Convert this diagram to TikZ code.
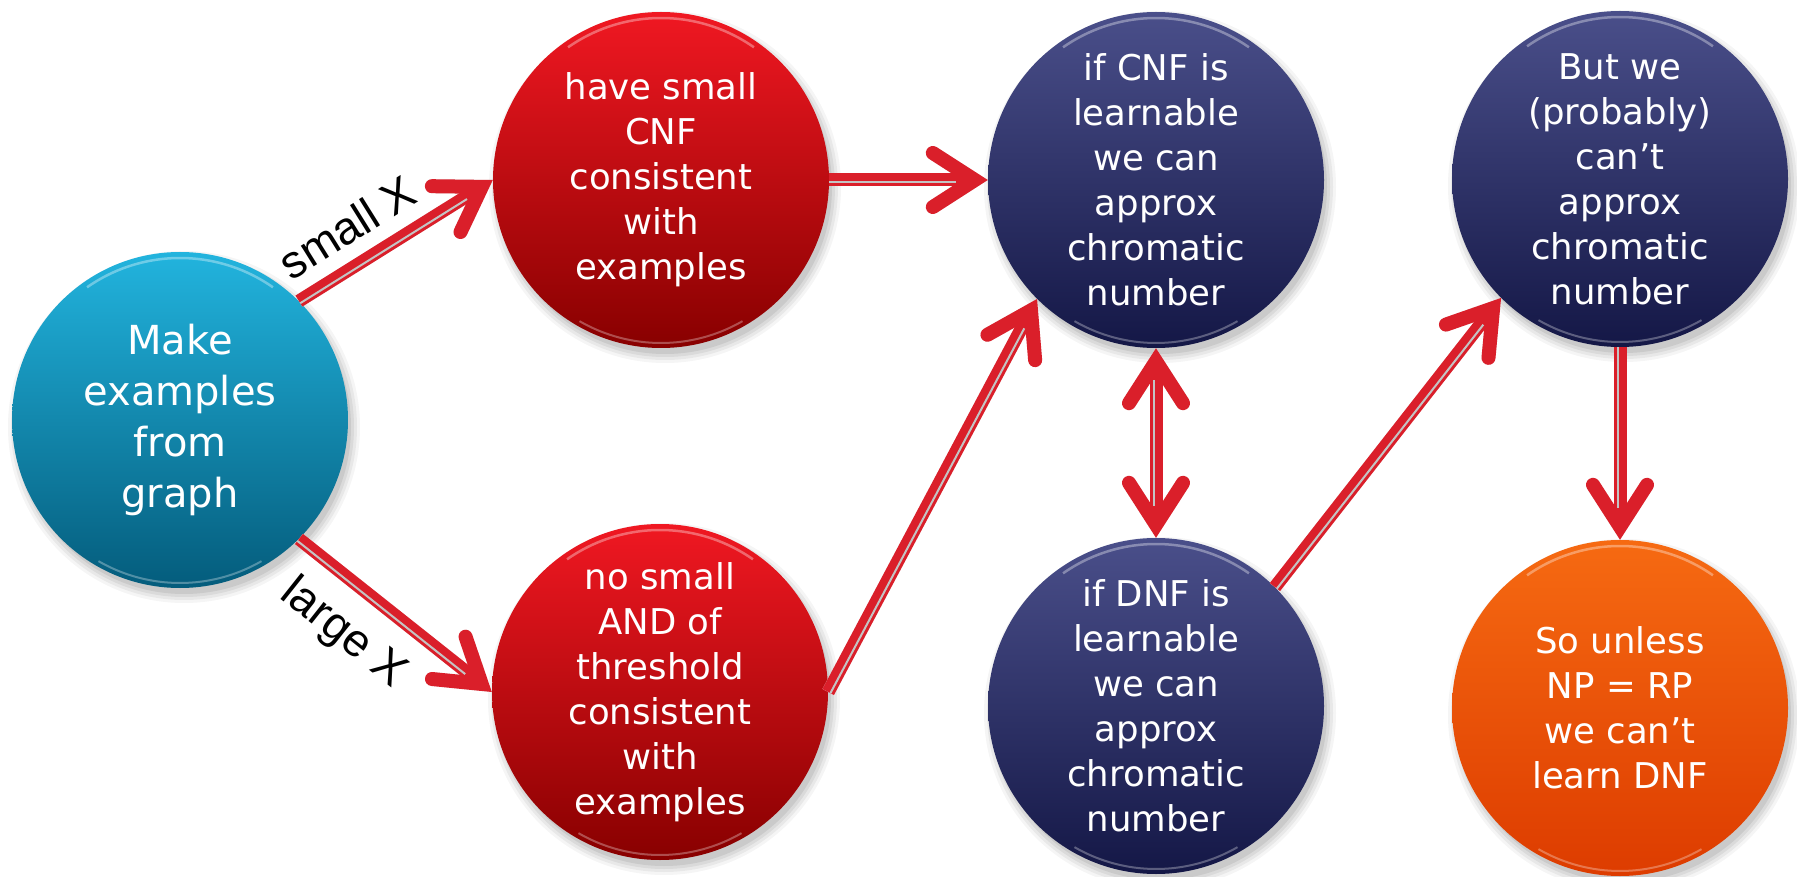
\documentclass[tikz,border=0pt]{standalone}
\usepackage{fontspec}
\setmainfont{DejaVu Sans}
\newfontfamily\lblfont{Liberation Sans}
\usetikzlibrary{arrows.meta,calc}
\definecolor{arrred}{HTML}{DA1F2A}
\definecolor{stripegray}{HTML}{C4C4C4}
\definecolor{cyantop}{HTML}{22B4DE}
\definecolor{cyanbot}{HTML}{045C7C}
\definecolor{redtop}{HTML}{F01822}
\definecolor{redbot}{HTML}{880000}
\definecolor{navytop}{HTML}{4A4F8A}
\definecolor{navybot}{HTML}{141746}
\definecolor{orgtop}{HTML}{F66A12}
\definecolor{orgbot}{HTML}{DD3C00}
\tikzset{
  ball/.style={circle, minimum size=336pt, inner sep=0pt, align=center,
    text=white, font=\fontsize{35.5}{45}\selectfont},
  bigball/.style={ball, font=\fontsize{40}{51}\selectfont},
  cyanball/.style={bigball, top color=cyantop, bottom color=cyanbot},
  redball/.style={ball, top color=redtop, bottom color=redbot},
  navyball/.style={ball, top color=navytop, bottom color=navybot},
  orgball/.style={ball, top color=orgtop, bottom color=orgbot},
  barb/.tip={Straight Barb[length=42pt,width=54pt,line width=14pt,line cap=round,line join=miter]},
  shaft/.style={draw=arrred, line width=13pt, -barb},
  dblshaft/.style={draw=arrred, line width=13pt, barb-barb},
  stripe/.style={draw=stripegray, line width=2pt},
  lbl/.style={font=\lblfont\fontsize{46}{50}\selectfont, text=black, sloped, inner sep=0pt},
}
\newcommand\ballshadow[1]{%
  \foreach \r/\o in {176/0.04,173/0.05,170/0.06,167/0.07}{
    \fill[black, opacity=\o] ([xshift=4pt,yshift=-7pt]#1.center) circle[radius=\r pt];}}
\newcommand\ballgloss[1]{%
  \draw[white, opacity=.35, line width=2.5pt]
    ([shift={(125:162pt)}]#1.center) arc[start angle=125, end angle=55, radius=162pt];
  \draw[white, opacity=.30, line width=2pt]
    ([shift={(240:163pt)}]#1.center) arc[start angle=240, end angle=300, radius=163pt];}
\newcommand\arrshadow[3]{%
  \begin{scope}[xshift=3pt,yshift=-5pt]
    \draw[#1, draw=black!9] (#2) -- (#3);
  \end{scope}}
\newcommand\conn[3]{%
  \draw[#1] (#2) -- (#3);
  \draw[stripe, shorten >=32pt] ($(#2)!2.5pt!-90:(#3)$) -- ($(#3)!2.5pt!90:(#2)$);}
\begin{document}
\begin{tikzpicture}[x=1pt, y=-1pt]
\useasboundingbox[fill=white] (0,0) rectangle (1797,877);
\coordinate (pcy) at (180,420);
\coordinate (prt) at (661,180);
\coordinate (prb) at (660,692);
\coordinate (pnt) at (1156,180);
\coordinate (pnb) at (1156,706);
\coordinate (pbr) at (1620,179);
\coordinate (porg) at (1620,708);
\foreach \p in {pcy,prt,prb,pnt,pnb,pbr,porg}{\ballshadow{\p}}
\node[cyanball] (cy) at (pcy) {Make\\examples\\from\\graph};
\node[redball] (rt) at (prt) {have small\\CNF\\consistent\\with\\examples};
\node[redball] (rb) at (prb) {no small\\AND of\\threshold\\consistent\\with\\examples};
\node[navyball] (nt) at (pnt) {if CNF is\\learnable\\we can\\approx\\chromatic\\number};
\node[navyball] (nb) at (pnb) {if DNF is\\learnable\\we can\\approx\\chromatic\\number};
\node[navyball] (br) at (pbr) {But we\\(probably)\\can’t\\approx\\chromatic\\number};
\node[orgball] (org) at (porg) {So unless\\NP = RP\\we can’t\\learn DNF};
\foreach \n in {cy,rt,rb,nt,nb,br,org}{\ballgloss{\n}}
% arrow shadows
\arrshadow{shaft}{cy.45}{rt.west}
\arrshadow{shaft}{cy.-45}{rb.west}
\arrshadow{shaft}{rt.east}{nt.west}
\arrshadow{shaft}{rb.east}{nt.225}
\arrshadow{dblshaft}{nt.south}{nb.north}
\arrshadow{shaft}{nb.45}{br.225}
\arrshadow{shaft}{br.south}{org.north}
% arrows
\conn{shaft}{cy.45}{rt.west}
\conn{shaft}{cy.-45}{rb.west}
\conn{shaft}{rt.east}{nt.west}
\conn{shaft}{rb.east}{nt.225}
\draw[dblshaft] (nt.south) -- (nb.north);
\draw[stripe, shorten >=32pt, shorten <=32pt] ($(nt.south)!2.5pt!-90:(nb.north)$) -- ($(nb.north)!2.5pt!90:(nt.south)$);
\conn{shaft}{nb.45}{br.225}
\conn{shaft}{br.south}{org.north}
% labels
\path (cy.45) -- (rt.west) node[lbl, pos=0.35, above=20pt] (lsmall) {small X};
\path (cy.-45) -- (rb.west) node[lbl, pos=0.38, below=25pt] (llarge) {large X};
\end{tikzpicture}
\end{document}
